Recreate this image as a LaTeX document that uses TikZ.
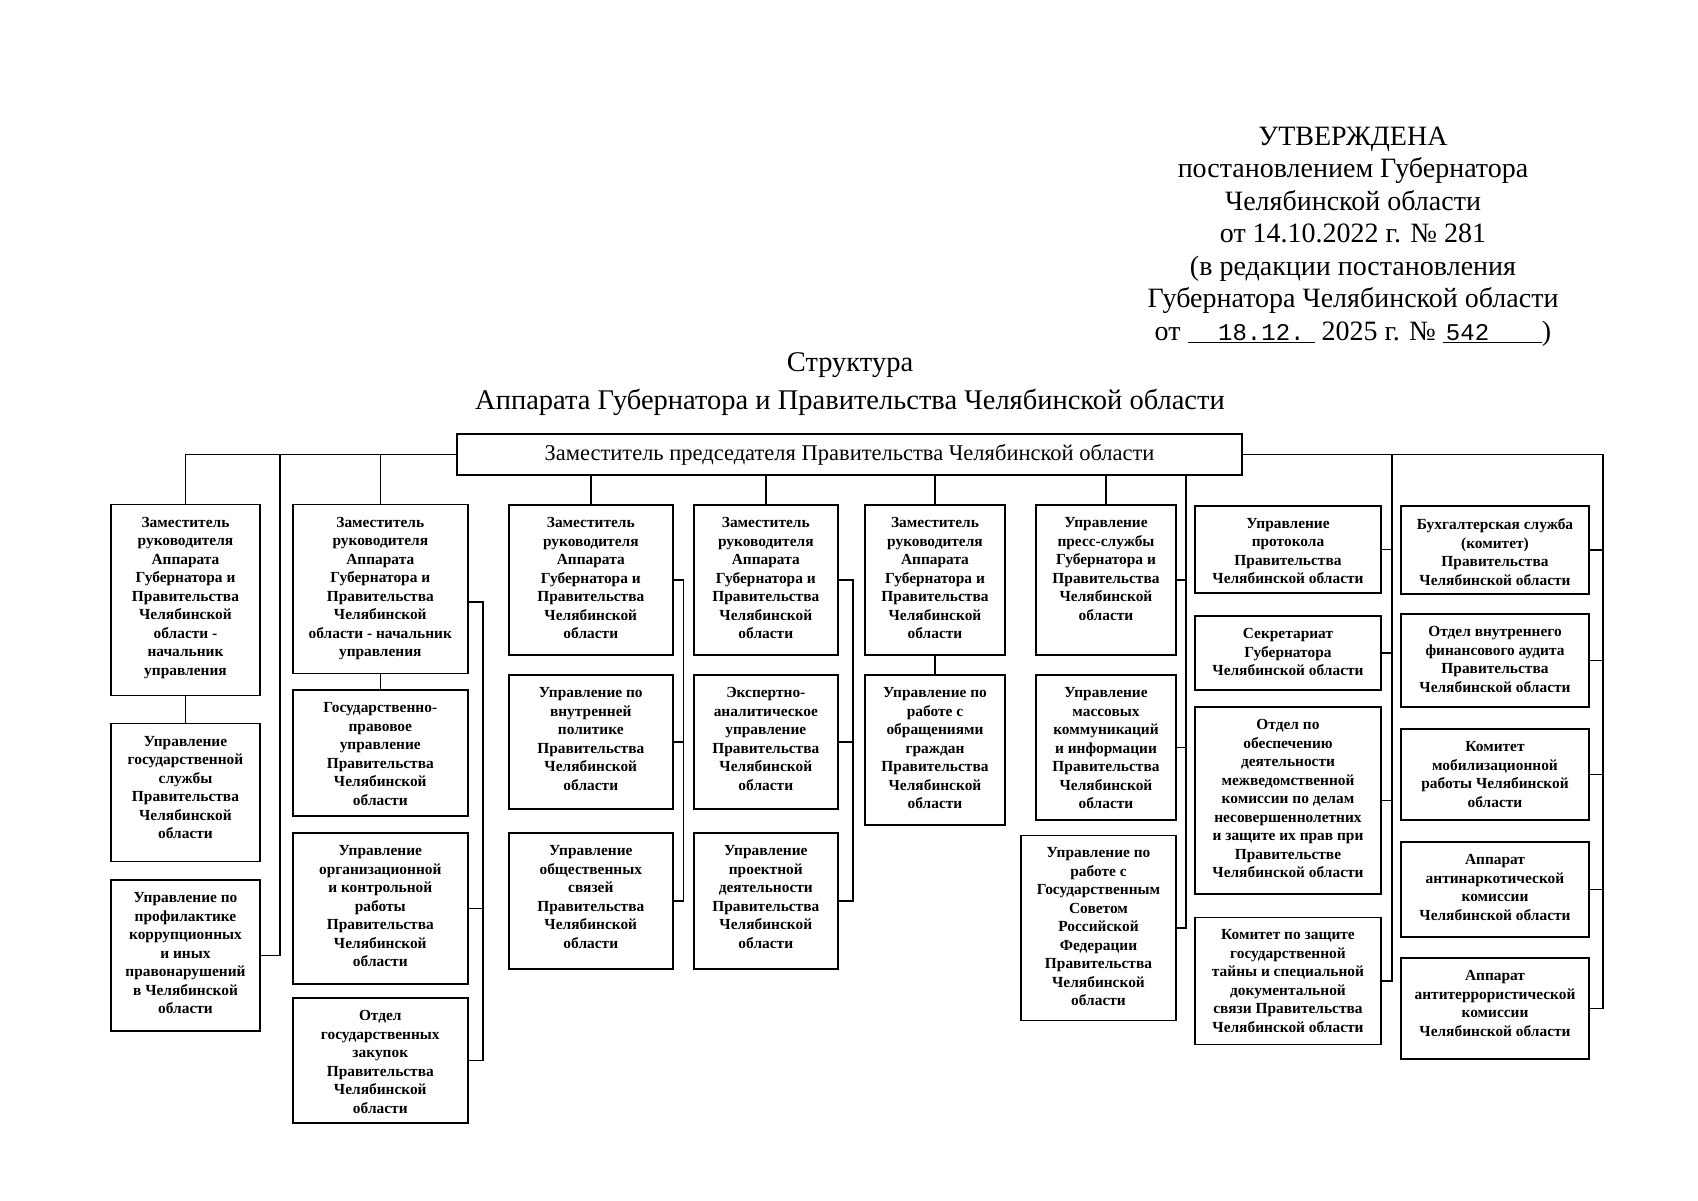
\documentclass[tikz,border=0pt]{standalone}
\usepackage{fontspec}
\setmainfont{Liberation Serif}
\newfontfamily\monofont{Liberation Mono}
\newcommand{\boxfont}{\fontsize{15.4}{18.5}\selectfont\bfseries}
\newcommand{\headfont}{\fontsize{28}{32.5}\selectfont}
\newcommand{\datefont}{\monofont\fontsize{24}{24}\selectfont}
% box text: width, height, lines (set from the top)
\newcommand{\bx}[3]{\parbox[c][#2pt][t]{#1pt}{\centering\vspace*{12.5pt}#3}}

\begin{document}
\begin{tikzpicture}[
  x=1pt, y=-1pt,
  box/.style={draw, line width=1.5pt, inner sep=0pt, font=\boxfont},
  conn/.style={line width=1.5pt},
  hdr/.style={align=center, inner sep=0pt, font=\headfont},
  ttl/.style={align=center, inner sep=0pt, font=\fontsize{28.5}{38}\selectfont},
]
\useasboundingbox (0,0) rectangle (1698,1200);

% --- header ---
\node[hdr] (appr) at (1353,236.5) {УТВЕРЖДЕНА\\
  постановлением Губернатора\\
  Челябинской области\\
  от 14.10.2022 г. № 281\\
  (в редакции постановления\\
  Губернатора Челябинской области\\
  от \underline{\makebox[127pt][r]{\datefont 18.12.\hspace{10pt}}} 2025 г. № \underline{\makebox[99pt][l]{\datefont\hspace{3pt}542}})};
\node[ttl] (ttl) at (850,384.5) {Структура\\
  Аппарата Губернатора и Правительства Челябинской области};

\node[box, font=\fontsize{22.5}{26}\selectfont, minimum width=785pt, minimum height=41pt] (top) at (849.5,454.5)
  {Заместитель председателя Правительства Челябинской области};

% rails
\coordinate (ra) at (280,0);
\coordinate (rb) at (483,0);
\coordinate (rc) at (683.6,0);
\coordinate (rd) at (852.8,0);
\coordinate (rf) at (1186,0);
\coordinate (rg) at (1392,0);
\coordinate (rh) at (1603,0);

% --- column A ---
\node[box] (a1) at (185.5,600) {\bx{149}{191}{Заместитель\\ руководителя\\ Аппарата\\ Губернатора и\\ Правительства\\ Челябинской\\ области -\\ начальник\\ управления}};
\node[box] (a2) at (185.5,792.6) {\bx{149}{138}{Управление\\ государственной\\ службы\\ Правительства\\ Челябинской\\ области}};
\node[box] (a3) at (185.5,955.5) {\bx{149}{151}{Управление по\\ профилактике\\ коррупционных\\ и иных\\ правонарушений\\ в Челябинской\\ области}};

% --- column B ---
\node[box] (b1) at (380.3,589) {\bx{175}{169}{Заместитель\\ руководителя\\ Аппарата\\ Губернатора и\\ Правительства\\ Челябинской\\ области - начальник\\ управления}};
\node[box] (b2) at (380.3,753) {\bx{175}{126}{Государственно-\\ правовое\\ управление\\ Правительства\\ Челябинской\\ области}};
\node[box] (b3) at (380.3,908.5) {\bx{175}{151}{Управление\\ организационной\\ и контрольной\\ работы\\ Правительства\\ Челябинской\\ области}};
\node[box] (b4) at (380.3,1060.5) {\bx{175}{125}{Отдел\\ государственных\\ закупок\\ Правительства\\ Челябинской\\ области}};

% --- column C ---
\node[box] (c1) at (590.8,580) {\bx{164}{150}{Заместитель\\ руководителя\\ Аппарата\\ Губернатора и\\ Правительства\\ Челябинской\\ области}};
\node[box] (c2) at (590.8,742) {\bx{164}{134}{Управление по\\ внутренней\\ политике\\ Правительства\\ Челябинской\\ области}};
\node[box] (c3) at (590.8,901) {\bx{164}{136}{Управление\\ общественных\\ связей\\ Правительства\\ Челябинской\\ области}};

% --- column D ---
\node[box] (d1) at (765.8,580) {\bx{144}{150}{Заместитель\\ руководителя\\ Аппарата\\ Губернатора и\\ Правительства\\ Челябинской\\ области}};
\node[box] (d2) at (765.8,742) {\bx{144}{134}{Экспертно-\\ аналитическое\\ управление\\ Правительства\\ Челябинской\\ области}};
\node[box] (d3) at (765.8,901) {\bx{144}{136}{Управление\\ проектной\\ деятельности\\ Правительства\\ Челябинской\\ области}};

% --- column E ---
\node[box] (e1) at (935,580) {\bx{140}{150}{Заместитель\\ руководителя\\ Аппарата\\ Губернатора и\\ Правительства\\ Челябинской\\ области}};
\node[box] (e2) at (935,750) {\bx{140}{150}{Управление по\\ работе с\\ обращениями\\ граждан\\ Правительства\\ Челябинской\\ области}};

% --- column F ---
\node[box] (f1) at (1106,580) {\bx{140}{150}{Управление\\ пресс-службы\\ Губернатора и\\ Правительства\\ Челябинской\\ области}};
\node[box] (f2) at (1106,747.5) {\bx{140}{145}{Управление\\ массовых\\ коммуникаций\\ и информации\\ Правительства\\ Челябинской\\ области}};
\node[box] (f3) at (1098.5,927.8) {\bx{155}{185}{Управление по\\ работе с\\ Государственным\\ Советом\\ Российской\\ Федерации\\ Правительства\\ Челябинской\\ области}};

% --- column G ---
\node[box] (g1) at (1288,549.4) {\bx{186}{87}{Управление\\ протокола\\ Правительства\\ Челябинской области}};
\node[box] (g2) at (1288,652.9) {\bx{186}{74}{Секретариат\\ Губернатора\\ Челябинской области}};
\node[box] (g3) at (1288,800.4) {\bx{186}{187}{Отдел по\\ обеспечению\\ деятельности\\ межведомственной\\ комиссии по делам\\ несовершеннолетних\\ и защите их прав при\\ Правительстве\\ Челябинской области}};
\node[box] (g4) at (1288,980.8) {\bx{186}{127}{Комитет по защите\\ государственной\\ тайны и специальной\\ документальной\\ связи Правительства\\ Челябинской области}};

% --- column H ---
\node[box] (h1) at (1495,550) {\bx{188}{88}{Бухгалтерская служба\\ (комитет)\\ Правительства\\ Челябинской области}};
\node[box] (h2) at (1495,660.5) {\bx{188}{93}{Отдел внутреннего\\ финансового аудита\\ Правительства\\ Челябинской области}};
\node[box] (h3) at (1495,774.5) {\bx{188}{91}{Комитет\\ мобилизационной\\ работы Челябинской\\ области}};
\node[box] (h4) at (1495,889.5) {\bx{188}{95}{Аппарат\\ антинаркотической\\ комиссии\\ Челябинской области}};
\node[box] (h5) at (1495,1008.5) {\bx{188}{101}{Аппарат\\ антитеррористической\\ комиссии\\ Челябинской области}};

% --- connectors ---
\draw[conn] (top.west) -| (a1.north);
\draw[conn] (a1) -- (a2);
\draw[conn] (top.west -| ra) |- (a3.east);
\draw[conn] (top.west -| b1.north) -- (b1.north);
\draw[conn] (b1) -- (b2);
\draw[conn] ([yshift=-13pt]b1.east) -- ([yshift=-13pt]b1.east -| rb) -- (b4.east -| rb) -- (b4.east);
\draw[conn] (b3.east) -- (b3.east -| rb);

\draw[conn] (top.south -| c1.north) -- (c1.north);
\draw[conn] (c1.east) -- (c1.east -| rc) -- (c3.east -| rc) -- (c3.east);
\draw[conn] (c2.east) -- (c2.east -| rc);

\draw[conn] (top.south -| d1.north) -- (d1.north);
\draw[conn] (d1.east) -- (d1.east -| rd) -- (d3.east -| rd) -- (d3.east);
\draw[conn] (d2.east) -- (d2.east -| rd);

\draw[conn] (top.south -| e1.north) -- (e1.north);
\draw[conn] (e1) -- (e2);

\draw[conn] (top.south -| f1.north) -- (f1.north);
\draw[conn] (top.south -| rf) |- (f3.east);
\draw[conn] (f1.east) -- (f1.east -| rf);
\draw[conn] (f2.east) -- (f2.east -| rf);

\draw[conn] (top.east -| rg) |- (g4.east);
\draw[conn] (g1.east) -- (g1.east -| rg);
\draw[conn] (g2.east) -- (g2.east -| rg);
\draw[conn] (g3.east) -- (g3.east -| rg);

\draw[conn] (top.east) -- (top.east -| rh) |- (h5.east);
\draw[conn] (h1.east) -- (h1.east -| rh);
\draw[conn] (h2.east) -- (h2.east -| rh);
\draw[conn] (h3.east) -- (h3.east -| rh);
\draw[conn] (h4.east) -- (h4.east -| rh);

\end{tikzpicture}
\end{document}
